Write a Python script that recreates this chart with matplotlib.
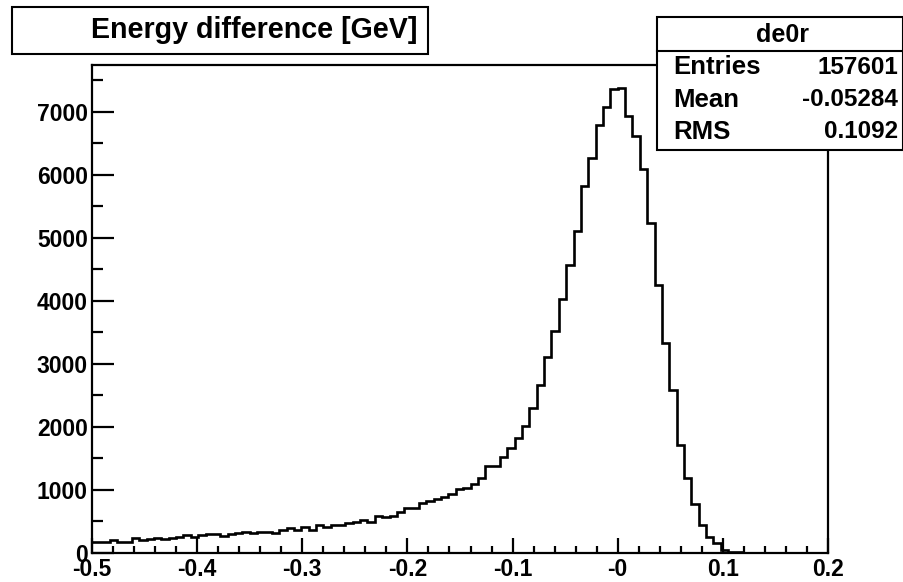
import numpy as np
import matplotlib
matplotlib.use('Agg')
import matplotlib.pyplot as plt
from matplotlib.patches import Rectangle
from matplotlib.lines import Line2D

plt.rcParams['font.family'] = ['Liberation Sans', 'DejaVu Sans']
plt.rcParams['font.weight'] = 'bold'

# histogram de0r: bins of 0.007 starting at -0.504
bin_lo = -0.504
bin_w = 0.007
counts = [170, 170, 170, 198, 162, 162, 225, 198, 209, 225,
          209, 235, 251, 278, 251, 278, 294, 294, 262, 294,
          305, 320, 305, 320, 330, 305, 350, 390, 362, 405,
          357, 440, 400, 437, 437, 463, 479, 516, 479, 584,
          568, 584, 638, 701, 701, 791, 822, 844, 886, 929,
          1003, 1030, 1085, 1177, 1373, 1373, 1515, 1654, 1812, 2010,
          2288, 2655, 3098, 3521, 4024, 4563, 5105, 5817, 6257, 6786,
          7076, 7355, 7378, 6929, 6620, 6083, 5230, 4240, 3321, 2579,
          1710, 1190, 768, 430, 243, 150, 40, 12, 3, 0,
          0, 0, 0, 0, 0, 0, 0, 0, 0, 0, 0]

title = 'Energy difference [GeV]'
stat_name = 'de0r'
stat_labels = ['Entries', 'Mean', 'RMS']
stat_values = ['157601', '-0.05284', '0.1092']
xticks = [-0.5, -0.4, -0.3, -0.2, -0.1, 0.0, 0.1, 0.2]
xticklabels = ['-0.5', '-0.4', '-0.3', '-0.2', '-0.1', '-0', '0.1', '0.2']
yticks = [0, 1000, 2000, 3000, 4000, 5000, 6000, 7000]

W, H = 904, 582
fig = plt.figure(figsize=(W / 100, H / 100), dpi=100)

def fx(px):
    return px / W

def fy(py):
    return 1 - py / H

ax = fig.add_axes([fx(92), fy(552.5), fx(828 - 92), (552.5 - 65) / H])

edges = bin_lo + bin_w * np.arange(len(counts) + 1)
ax.stairs(counts, edges, color='black', lw=1.9)

ax.set_xlim(-0.5, 0.2)
ax.set_ylim(0, 7740)
ax.set_xticks(xticks)
ax.set_xticklabels(xticklabels)
ax.set_xticks(np.arange(-0.5, 0.2001, 0.02), minor=True)
ax.set_yticks(yticks)
ax.set_yticklabels([str(v) for v in yticks])
ax.set_yticks(np.arange(0, 7740, 500), minor=True)

for s in ax.spines.values():
    s.set_linewidth(1.6)

ax.tick_params(axis='both', which='both', direction='in', width=1.6,
               labelsize=16.5, top=False, right=False)
ax.tick_params(axis='y', which='major', length=15.8, pad=3)
ax.tick_params(axis='y', which='minor', length=7.9)
ax.tick_params(axis='x', which='major', length=10.8, pad=4)
ax.tick_params(axis='x', which='minor', length=5.4)
for lab in ax.get_xticklabels() + ax.get_yticklabels():
    lab.set_fontweight('bold')

# title box
fig.patches.append(Rectangle((fx(12), fy(54)), fx(416), 47 / H, transform=fig.transFigure,
                             facecolor='white', edgecolor='black', lw=1.5, zorder=5))
fig.text(fx(254), fy(38), title, ha='center', va='baseline', fontsize=20.6,
         fontweight='bold', zorder=6)

# stats box
fig.patches.append(Rectangle((fx(657), fy(150)), fx(246), 133 / H, transform=fig.transFigure,
                             facecolor='white', edgecolor='black', lw=1.5, zorder=5))
fig.lines.append(Line2D([fx(657), fx(903)], [fy(51), fy(51)], transform=fig.transFigure,
                        color='black', lw=1.5, zorder=6))
fig.text(fx(783), fy(35), stat_name, ha='center', va='center', fontsize=18,
         fontweight='bold', zorder=6)
for i, (lab, val) in enumerate(zip(stat_labels, stat_values)):
    yy = 67 + i * 32.5
    fig.text(fx(673), fy(yy), lab, ha='left', va='center', fontsize=18.5,
             fontweight='bold', zorder=6)
    fig.text(fx(898), fy(yy), val, ha='right', va='center', fontsize=17.5,
             fontweight='bold', zorder=6)

fig.savefig('out.png', dpi=100)
